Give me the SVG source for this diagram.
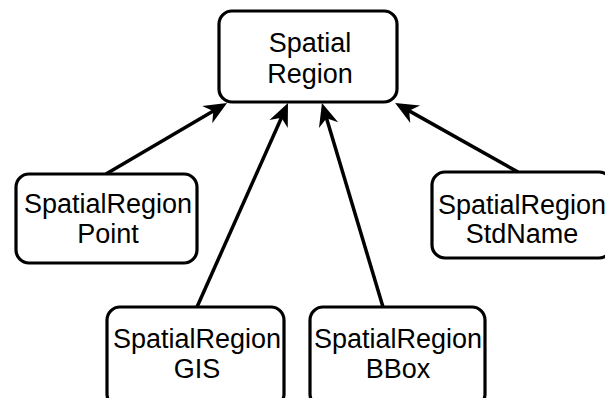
<svg xmlns="http://www.w3.org/2000/svg" width="605" height="398" viewBox="0 0 605 398">
<style>
.box{fill:#fff;stroke:#000;stroke-width:3.2}
.lbl{font-family:"Liberation Sans",Arial,Helvetica,sans-serif;font-size:27px;fill:#000;text-anchor:middle}
.edge{fill:none;stroke:#000;stroke-width:3.5}
</style>
<defs>
<marker id="arr" markerUnits="userSpaceOnUse" markerWidth="30" markerHeight="26" viewBox="-26 -13 30 26" refX="-12" refY="0" orient="auto" overflow="visible">
<path d="M0,0 L-23,-10 L-16,0 L-23,10 Z" fill="#000"/>
</marker>
</defs>
<rect width="605" height="398" fill="#fff"/>
<g id="connectors">
<path class="edge" d="M106,174 L216.7,109.1" marker-end="url(#arr)"/>
<path class="edge" d="M197,307 L283.1,114" marker-end="url(#arr)"/>
<path class="edge" d="M383,307 L325.4,114.5" marker-end="url(#arr)"/>
<path class="edge" d="M518,172 L405.6,108.9" marker-end="url(#arr)"/>
</g>
<g id="spatial-region">
<rect class="box" x="219" y="11" width="178" height="91" rx="13"/>
<text class="lbl" x="310" y="52">Spatial</text>
<text class="lbl" x="310" y="83">Region</text>
</g>
<g id="spatial-region-point">
<rect class="box" x="16" y="174" width="181" height="89" rx="13"/>
<text class="lbl" x="108" y="213">SpatialRegion</text>
<text class="lbl" x="108" y="243">Point</text>
</g>
<g id="spatial-region-stdname">
<rect class="box" x="432" y="172" width="180" height="86" rx="13"/>
<text class="lbl" x="522" y="214">SpatialRegion</text>
<text class="lbl" x="522" y="243">StdName</text>
</g>
<g id="spatial-region-gis">
<rect class="box" x="107" y="307" width="177" height="100" rx="13"/>
<text class="lbl" x="197" y="348">SpatialRegion</text>
<text class="lbl" x="197" y="378">GIS</text>
</g>
<g id="spatial-region-bbox">
<rect class="box" x="310" y="307" width="175" height="100" rx="13"/>
<text class="lbl" x="398" y="348">SpatialRegion</text>
<text class="lbl" x="398" y="378">BBox</text>
</g>
</svg>
